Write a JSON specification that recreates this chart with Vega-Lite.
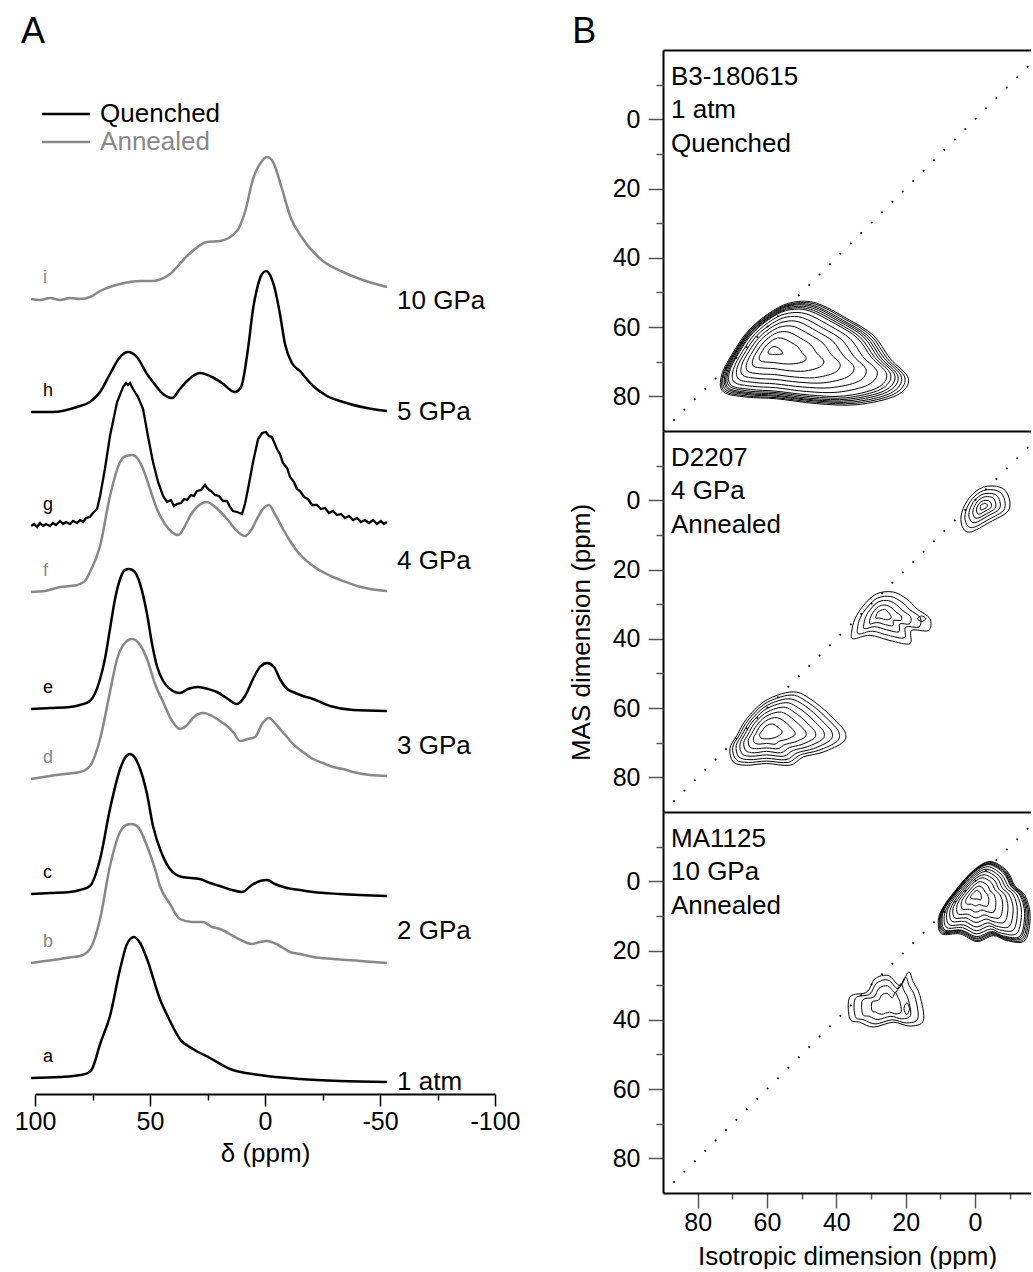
{
"$schema": "https://vega.github.io/schema/vega-lite/v6.json",
"background": "white",
"padding": {"left": 14, "top": 14, "right": 0, "bottom": 0},
"config": {
  "font": "Liberation Sans",
  "view": {"stroke": null},
  "axis": {"labelFont": "Liberation Sans", "titleFont": "Liberation Sans", "labelColor": "#000000", "titleColor": "#000000", "titleFontWeight": "normal", "grid": false, "labelFlush": false}
},
"datasets": {
  "spectra": [
    {"s": "i", "type": "Annealed", "x": [101.7, 97.8, 93.5, 89.1, 84.8, 80.4, 76.1, 71.7, 63.0, 54.3, 48.7, 41.3, 33.9, 25.2, 19.6, 12.2, 8.7, 5.2, 1.3, -0.9, -3.5, -7.4, -10.9, -16.5, -25.2, -33.9, -41.3, -53.0], "u": [900, 899, 901, 899, 901, 900, 902, 908, 915, 918, 918, 925, 943, 957, 958, 968, 987, 1020, 1038, 1042, 1037, 1010, 983, 960, 938, 927, 920, 912]},
    {"s": "h", "type": "Quenched", "x": [101.7, 92.2, 81.7, 76.1, 71.7, 67.4, 63.0, 59.6, 55.7, 51.3, 48.7, 44.3, 40.4, 37.0, 33.9, 28.3, 23.0, 18.7, 13.0, 10.4, 7.4, 5.2, 3.5, 1.3, -0.4, -2.6, -4.3, -6.5, -8.7, -11.7, -15.2, -20.9, -27.0, -33.9, -44.3, -53.0], "u": [787, 787, 792, 797, 807, 825, 842, 847, 842, 825, 817, 805, 801, 810, 818, 826, 822, 816, 807, 812, 850, 890, 910, 925, 928, 922, 910, 885, 855, 836, 828, 813, 803, 797, 791, 788]},
    {"s": "g", "type": "Quenched", "x": [101.7, 100.4, 99.1, 97.8, 96.5, 95.2, 93.5, 92.2, 90.9, 89.1, 87.8, 86.5, 84.8, 83.5, 81.7, 80.4, 79.1, 77.8, 76.1, 74.8, 73.0, 71.7, 69.6, 67.4, 64.3, 61.7, 60.4, 59.6, 58.7, 57.4, 55.2, 53.0, 50.9, 48.7, 46.5, 44.3, 42.6, 40.9, 39.6, 38.3, 36.5, 35.2, 33.9, 32.2, 30.9, 29.6, 27.8, 26.1, 24.8, 23.5, 21.7, 20.0, 18.3, 16.5, 15.2, 13.9, 12.2, 10.0, 8.7, 7.4, 5.2, 3.0, 1.3, -0.4, -1.7, -3.0, -5.2, -6.5, -7.8, -9.6, -10.9, -12.6, -13.9, -15.2, -17.0, -18.7, -20.4, -22.6, -24.3, -26.1, -27.8, -29.6, -31.3, -33.0, -34.8, -36.5, -38.3, -40.0, -41.7, -43.5, -45.2, -47.0, -48.7, -50.4, -51.7, -53.0], "u": [673, 675, 672, 676, 673, 675, 673, 676, 674, 678, 675, 677, 675, 678, 676, 679, 677, 681, 682, 686, 690, 703, 730, 763, 797, 812, 816, 814, 816, 810, 802, 790, 763, 737, 717, 703, 697, 699, 693, 695, 696, 700, 699, 704, 703, 708, 709, 714, 710, 708, 704, 703, 698, 698, 692, 688, 687, 685, 695, 710, 737, 760, 766, 767, 763, 762, 750, 745, 736, 731, 722, 717, 710, 708, 702, 700, 694, 694, 690, 691, 686, 688, 684, 685, 681, 683, 679, 681, 677, 679, 676, 679, 675, 678, 675, 677]},
    {"s": "f", "type": "Annealed", "x": [101.7, 95.7, 89.1, 84.8, 81.7, 78.3, 76.1, 71.7, 67.4, 63.0, 60.4, 57.8, 55.2, 53.0, 50.0, 47.0, 43.5, 37.8, 34.8, 32.6, 29.1, 25.2, 21.7, 16.5, 12.6, 8.7, 5.7, 3.5, 0.9, -1.7, -4.3, -7.8, -10.9, -13.9, -20.9, -29.6, -33.9, -40.0, -45.7, -53.0], "u": [607, 608, 612, 613, 614, 618, 627, 653, 703, 737, 743, 744, 740, 730, 710, 690, 675, 664, 673, 683, 693, 697, 692, 680, 669, 663, 670, 680, 690, 694, 685, 670, 658, 648, 633, 622, 618, 613, 610, 608]},
    {"s": "e", "type": "Quenched", "x": [101.7, 93.5, 84.8, 80.4, 76.1, 71.7, 69.6, 67.4, 65.2, 63.0, 60.9, 59.1, 57.0, 54.3, 51.3, 49.1, 47.0, 44.3, 41.3, 37.0, 33.5, 29.1, 24.8, 20.9, 16.1, 12.2, 8.7, 5.2, 2.2, -0.9, -3.9, -6.5, -9.6, -12.2, -16.5, -20.9, -28.3, -38.3, -53.0], "u": [490, 491, 492, 494, 498, 520, 540, 570, 600, 620, 629, 630, 628, 615, 585, 555, 533, 518, 510, 506, 510, 512, 510, 507, 500, 495, 503, 520, 532, 536, 532, 520, 510, 507, 503, 500, 493, 489, 488]},
    {"s": "d", "type": "Annealed", "x": [101.7, 93.5, 87.0, 80.4, 76.1, 71.7, 67.4, 64.3, 61.3, 57.8, 54.3, 51.3, 47.8, 44.3, 40.4, 37.0, 34.3, 31.7, 29.1, 26.5, 23.0, 19.6, 16.5, 13.5, 10.9, 7.4, 4.3, 1.3, -1.7, -4.3, -6.5, -9.6, -12.2, -16.5, -20.9, -25.2, -29.6, -33.9, -38.3, -45.7, -53.0], "u": [420, 423, 425, 427, 433, 460, 507, 540, 555, 560, 554, 540, 515, 497, 478, 470, 473, 480, 485, 486, 483, 478, 473, 466, 458, 460, 462, 475, 481, 476, 470, 462, 455, 447, 440, 436, 432, 430, 427, 424, 423]},
    {"s": "c", "type": "Quenched", "x": [101.7, 93.5, 84.8, 80.4, 76.1, 71.7, 67.4, 63.0, 60.9, 58.7, 56.5, 54.3, 51.3, 48.7, 44.8, 41.3, 36.1, 28.3, 23.9, 19.6, 14.3, 10.0, 5.7, 2.2, -0.9, -4.3, -9.6, -15.2, -20.9, -32.6, -53.0], "u": [305, 306, 307, 309, 313, 340, 390, 430, 441, 445, 441, 430, 405, 373, 345, 330, 322, 320, 316, 313, 309, 307, 314, 318, 319, 315, 311, 309, 307, 305, 303]},
    {"s": "b", "type": "Annealed", "x": [101.7, 95.7, 89.1, 83.9, 80.4, 76.1, 71.7, 67.4, 63.0, 60.4, 57.8, 55.2, 51.3, 47.8, 45.7, 41.3, 37.0, 31.7, 27.0, 23.0, 19.6, 13.0, 8.7, 5.7, 2.2, -0.9, -5.7, -10.9, -15.2, -20.9, -29.6, -41.3, -53.0], "u": [236, 238, 240, 242, 243, 250, 280, 333, 367, 374, 375, 372, 353, 330, 313, 295, 280, 277, 277, 272, 270, 262, 257, 255, 257, 258, 254, 247, 245, 242, 240, 238, 236]},
    {"s": "a", "type": "Quenched", "x": [101.7, 89.1, 80.4, 76.9, 75.2, 71.7, 67.4, 63.0, 60.0, 57.0, 54.3, 51.3, 45.7, 41.3, 37.0, 31.3, 23.9, 15.2, 2.2, -15.2, -32.6, -53.0], "u": [121, 122, 124, 126, 130, 155, 183, 230, 255, 262, 256, 240, 200, 178, 160, 150, 141, 130, 124, 120, 118, 117]}
  ],
  "plabels": [
    {"p": "10 GPa", "u": 898},
    {"p": "5 GPa", "u": 787},
    {"p": "4 GPa", "u": 638},
    {"p": "3 GPa", "u": 453},
    {"p": "2 GPa", "u": 268},
    {"p": "1 atm", "u": 117}
  ],
  "blabels": [
    {"p": 1, "t": "B3-180615\n1 atm\nQuenched"},
    {"p": 2, "t": "D2207\n4 GPa\nAnnealed"},
    {"p": 3, "t": "MA1125\n10 GPa\nAnnealed"}
  ],
  "diag": [{"d": 90}, {"d": -20}],
  "contours": [
    {"p": 1, "c": "t01", "x": [73.1, 72.6, 65.9, 57.2, 45.7, 34.0, 22.6, 19.2, 24.5, 29.3, 37.0, 45.7, 52.4, 58.2, 64.9, 69.7], "y": [73.9, 78.7, 80.2, 80.7, 82.1, 82.4, 79.7, 74.9, 69.1, 62.4, 57.5, 53.1, 52.8, 55.2, 60.5, 67.2]},
    {"p": 1, "c": "t01b", "x": [72.7, 72.3, 65.7, 57.2, 46.0, 34.6, 23.5, 20.2, 25.4, 30.0, 37.5, 46.0, 52.6, 58.2, 64.7, 69.4], "y": [73.7, 78.4, 79.9, 80.4, 81.7, 82.0, 79.4, 74.7, 69.0, 62.5, 57.7, 53.4, 53.2, 55.5, 60.7, 67.2]},
    {"p": 1, "c": "t02", "x": [72.4, 71.9, 65.5, 57.3, 46.3, 35.2, 24.4, 21.2, 26.2, 30.8, 38.1, 46.3, 52.7, 58.2, 64.6, 69.1], "y": [73.5, 78.1, 79.5, 80.0, 81.3, 81.6, 79.1, 74.5, 69.0, 62.6, 58.0, 53.8, 53.5, 55.8, 60.8, 67.2]},
    {"p": 1, "c": "t02b", "x": [72.0, 71.5, 65.4, 57.3, 46.7, 35.8, 25.3, 22.2, 27.1, 31.5, 38.6, 46.7, 52.9, 58.2, 64.4, 68.9], "y": [73.4, 77.8, 79.2, 79.7, 81.0, 81.2, 78.7, 74.3, 68.9, 62.7, 58.2, 54.1, 53.8, 56.1, 61.0, 67.2]},
    {"p": 1, "c": "t03", "x": [71.6, 71.2, 65.2, 57.3, 47.0, 36.5, 26.2, 23.1, 27.9, 32.2, 39.2, 47.0, 53.0, 58.2, 64.3, 68.6], "y": [73.2, 77.5, 78.9, 79.3, 80.6, 80.8, 78.4, 74.1, 68.9, 62.8, 58.4, 54.5, 54.2, 56.4, 61.1, 67.2]},
    {"p": 1, "c": "t03b", "x": [71.2, 70.8, 64.9, 57.4, 47.4, 37.2, 27.3, 24.3, 28.9, 33.1, 39.8, 47.4, 53.2, 58.2, 64.1, 68.2], "y": [73.0, 77.1, 78.5, 78.9, 80.1, 80.4, 78.0, 73.8, 68.8, 63.0, 58.7, 54.9, 54.6, 56.7, 61.3, 67.1]},
    {"p": 1, "c": "t04", "x": [70.8, 70.3, 64.7, 57.4, 47.8, 37.9, 28.3, 25.5, 29.9, 34.0, 40.4, 47.8, 53.4, 58.3, 63.9, 67.9], "y": [72.8, 76.8, 78.0, 78.5, 79.6, 79.9, 77.6, 73.6, 68.7, 63.1, 59.0, 55.3, 55.0, 57.0, 61.5, 67.1]},
    {"p": 1, "c": "t05", "x": [69.7, 69.4, 64.2, 57.5, 48.6, 39.6, 30.9, 28.2, 32.3, 36.0, 41.9, 48.6, 53.8, 58.3, 63.4, 67.1], "y": [72.2, 75.9, 77.1, 77.5, 78.6, 78.8, 76.7, 73.0, 68.6, 63.4, 59.6, 56.2, 56.0, 57.8, 61.9, 67.1]},
    {"p": 1, "c": "t06", "x": [68.6, 68.2, 63.6, 57.6, 49.7, 41.6, 33.7, 31.4, 35.0, 38.4, 43.7, 49.7, 54.3, 58.3, 62.9, 66.2], "y": [71.7, 75.0, 76.0, 76.4, 77.3, 77.5, 75.7, 72.4, 68.4, 63.7, 60.4, 57.3, 57.1, 58.8, 62.4, 67.1]},
    {"p": 1, "c": "t07", "x": [67.3, 67.0, 62.9, 57.7, 50.8, 43.8, 37.0, 34.9, 38.1, 41.0, 45.6, 50.8, 54.8, 58.3, 62.3, 65.2], "y": [71.0, 73.9, 74.8, 75.1, 75.9, 76.1, 74.5, 71.6, 68.1, 64.1, 61.2, 58.5, 58.4, 59.8, 63.0, 67.0]},
    {"p": 1, "c": "t08", "x": [65.8, 65.6, 62.2, 57.9, 52.1, 46.3, 40.6, 38.9, 41.5, 43.9, 47.8, 52.1, 55.5, 58.4, 61.7, 64.1], "y": [70.3, 72.7, 73.5, 73.7, 74.4, 74.6, 73.2, 70.8, 67.9, 64.6, 62.1, 59.9, 59.8, 61.0, 63.6, 67.0]},
    {"p": 1, "c": "t09", "x": [64.1, 63.9, 61.3, 58.0, 53.6, 49.2, 44.9, 43.6, 45.6, 47.4, 50.3, 53.6, 56.2, 58.4, 60.9, 62.8], "y": [69.4, 71.3, 71.8, 72.0, 72.6, 72.7, 71.6, 69.8, 67.6, 65.1, 63.2, 61.5, 61.4, 62.3, 64.3, 66.9]},
    {"p": 1, "c": "t10", "x": [62.2, 62.0, 60.4, 58.2, 55.3, 52.4, 49.5, 48.7, 50.0, 51.2, 53.1, 55.3, 57.0, 58.4, 60.1, 61.3], "y": [68.5, 69.7, 70.1, 70.2, 70.6, 70.6, 70.0, 68.8, 67.3, 65.6, 64.4, 63.3, 63.2, 63.8, 65.2, 66.8]},
    {"p": 1, "c": "t11", "x": [59.7, 59.1, 57.5, 55.6, 55.8, 56.8, 58.0, 59.0], "y": [67.3, 67.8, 67.9, 67.7, 66.9, 66.0, 65.6, 66.2]},
    {"p": 2, "c": "m1", "x": [70.7, 69.7, 65.9, 60.1, 53.4, 49.5, 43.8, 38.0, 37.5, 39.9, 43.8, 47.6, 51.4, 55.8, 61.1, 65.9, 68.7], "y": [71.7, 75.6, 76.5, 76.0, 76.5, 74.1, 72.7, 69.8, 66.9, 64.0, 60.2, 57.3, 55.4, 55.9, 58.3, 63.1, 67.9]},
    {"p": 2, "c": "m2", "x": [69.9, 68.9, 65.4, 60.1, 53.9, 50.4, 45.1, 39.8, 39.3, 41.5, 45.1, 48.6, 52.1, 56.1, 61.0, 65.4, 68.0], "y": [71.3, 74.9, 75.7, 75.3, 75.7, 73.5, 72.2, 69.6, 66.9, 64.2, 60.7, 58.1, 56.3, 56.8, 59.0, 63.4, 67.8]},
    {"p": 2, "c": "m3", "x": [68.9, 68.1, 64.9, 60.1, 54.5, 51.3, 46.6, 41.8, 41.3, 43.3, 46.6, 49.7, 52.9, 56.5, 60.9, 64.9, 67.2], "y": [70.9, 74.1, 74.9, 74.5, 74.9, 72.9, 71.7, 69.3, 66.9, 64.5, 61.3, 58.9, 57.4, 57.8, 59.8, 63.8, 67.7]},
    {"p": 2, "c": "m4", "x": [67.8, 67.1, 64.3, 60.1, 55.2, 52.4, 48.2, 44.0, 43.6, 45.4, 48.2, 51.0, 53.8, 57.0, 60.8, 64.3, 66.4], "y": [70.4, 73.3, 73.9, 73.5, 73.9, 72.2, 71.1, 69.0, 66.9, 64.8, 62.0, 59.9, 58.5, 58.9, 60.6, 64.1, 67.6]},
    {"p": 2, "c": "m5", "x": [66.7, 66.1, 63.7, 60.1, 56.0, 53.5, 50.0, 46.4, 46.1, 47.6, 50.0, 52.4, 54.7, 57.4, 60.7, 63.7, 65.4], "y": [69.9, 72.3, 72.9, 72.5, 72.9, 71.4, 70.5, 68.7, 66.9, 65.1, 62.8, 61.0, 59.8, 60.1, 61.6, 64.5, 67.5]},
    {"p": 2, "c": "m6", "x": [65.4, 64.9, 63.0, 60.1, 56.8, 54.8, 52.0, 49.1, 48.8, 50.0, 52.0, 53.9, 55.8, 58.0, 60.6, 63.0, 64.4], "y": [69.3, 71.3, 71.7, 71.5, 71.7, 70.5, 69.8, 68.4, 66.9, 65.5, 63.6, 62.1, 61.2, 61.4, 62.6, 65.0, 67.4]},
    {"p": 2, "c": "m7", "x": [63.9, 63.6, 62.2, 60.1, 57.7, 56.3, 54.2, 52.1, 52.0, 52.8, 54.2, 55.6, 57.0, 58.6, 60.5, 62.2, 63.2], "y": [68.6, 70.0, 70.4, 70.2, 70.4, 69.5, 69.0, 67.9, 66.9, 65.9, 64.5, 63.4, 62.8, 62.9, 63.8, 65.5, 67.3]},
    {"p": 2, "c": "m8", "x": [62.2, 61.3, 58.8, 56.8, 55.6, 56.8, 58.4, 60.3, 61.8], "y": [67.9, 68.8, 68.8, 68.1, 66.9, 65.6, 64.6, 65.2, 67.1]},
    {"p": 2, "c": "n1", "x": [35.6, 35.1, 30.3, 24.5, 18.8, 18.3, 13.5, 13.0, 16.8, 19.7, 23.6, 28.4, 32.2, 34.6], "y": [38.1, 40.0, 39.0, 40.5, 41.4, 37.6, 37.6, 34.2, 31.3, 28.5, 26.5, 27.0, 30.4, 34.2]},
    {"p": 2, "c": "n2", "x": [33.9, 33.5, 29.6, 25.0, 20.4, 20.0, 16.2, 15.8, 18.8, 21.1, 24.3, 28.1, 31.1, 33.1], "y": [37.0, 38.6, 37.8, 39.0, 39.7, 36.6, 36.6, 33.9, 31.6, 29.4, 27.8, 28.2, 30.9, 33.9]},
    {"p": 2, "c": "n3", "x": [32.1, 31.8, 28.9, 25.5, 22.0, 21.7, 18.9, 18.6, 20.8, 22.6, 24.9, 27.8, 30.1, 31.5], "y": [36.0, 37.1, 36.5, 37.4, 38.0, 35.7, 35.7, 33.6, 31.9, 30.2, 29.0, 29.3, 31.4, 33.6]},
    {"p": 2, "c": "n4", "x": [30.4, 30.2, 28.3, 25.9, 23.7, 23.5, 21.5, 21.3, 22.9, 24.0, 25.6, 27.5, 29.0, 30.0], "y": [34.9, 35.7, 35.3, 35.9, 36.2, 34.7, 34.7, 33.4, 32.2, 31.1, 30.3, 30.5, 31.8, 33.4]},
    {"p": 2, "c": "n5", "x": [28.6, 27.6, 25.3, 24.2, 24.9, 26.2, 28.0], "y": [33.9, 34.0, 34.5, 33.8, 32.5, 31.5, 32.3]},
    {"p": 2, "c": "n6", "x": [16.6, 15.4, 14.2, 15.4], "y": [34.2, 35.0, 34.2, 33.4]},
    {"p": 2, "c": "o1", "x": [3.8, 3.8, 1.5, -4.3, -9.6, -9.6, -7.2, -2.4, 1.5], "y": [3.5, 7.3, 9.2, 6.3, 3.0, -1.3, -3.8, -3.8, -0.9]},
    {"p": 2, "c": "o2", "x": [2.7, 2.7, 0.8, -4.0, -8.3, -8.3, -6.3, -2.4, 0.8], "y": [3.2, 6.3, 7.9, 5.5, 2.8, -0.8, -2.8, -2.8, -0.4]},
    {"p": 2, "c": "o3", "x": [1.6, 1.6, 0.1, -3.6, -7.0, -7.0, -5.5, -2.4, 0.1], "y": [2.9, 5.3, 6.5, 4.6, 2.5, -0.2, -1.8, -1.8, 0.0]},
    {"p": 2, "c": "o4", "x": [0.5, 0.5, -0.6, -3.3, -5.8, -5.8, -4.7, -2.4, -0.6], "y": [2.6, 4.3, 5.2, 3.9, 2.3, 0.3, -0.9, -0.9, 0.5]},
    {"p": 2, "c": "o5", "x": [-0.5, -0.5, -1.2, -3.0, -4.6, -4.6, -3.8, -2.4, -1.2], "y": [2.2, 3.4, 4.0, 3.1, 2.1, 0.8, 0.1, 0.1, 0.9]},
    {"p": 2, "c": "o6", "x": [-1.5, -1.8, -3.5, -3.1, -1.8], "y": [2.0, 2.8, 1.9, 0.9, 1.3]},
    {"p": 3, "c": "l01", "x": [-4.3, 0.5, 5.3, 9.2, 10.6, 9.6, 4.3, -0.5, -5.3, -9.1, -14.4, -15.9, -14.4, -11.5, -9.1], "y": [-5.7, -3.1, 2.2, 7.5, 11.4, 15.2, 15.2, 17.4, 15.7, 17.1, 17.1, 9.9, 4.1, 1.3, -3.1]},
    {"p": 3, "c": "l01b", "x": [-4.2, 0.5, 5.2, 9.0, 10.3, 9.4, 4.2, -0.5, -5.2, -8.9, -14.0, -15.5, -14.0, -11.2, -8.9], "y": [-5.5, -2.9, 2.2, 7.4, 11.2, 14.9, 14.9, 17.1, 15.4, 16.8, 16.8, 9.8, 4.1, 1.4, -2.9]},
    {"p": 3, "c": "l02", "x": [-4.1, 0.5, 5.0, 8.7, 10.1, 9.1, 4.1, -0.5, -5.0, -8.6, -13.7, -15.1, -13.7, -10.9, -8.6], "y": [-5.2, -2.8, 2.3, 7.3, 11.0, 14.6, 14.6, 16.7, 15.1, 16.4, 16.4, 9.6, 4.1, 1.4, -2.8]},
    {"p": 3, "c": "l02b", "x": [-4.0, 0.5, 4.9, 8.5, 9.8, 8.9, 4.0, -0.5, -4.9, -8.4, -13.3, -14.7, -13.3, -10.6, -8.4], "y": [-5.0, -2.6, 2.3, 7.2, 10.8, 14.3, 14.3, 16.4, 14.8, 16.1, 16.1, 9.4, 4.1, 1.5, -2.6]},
    {"p": 3, "c": "l03", "x": [-3.9, 0.5, 4.8, 8.3, 9.5, 8.6, 3.9, -0.5, -4.8, -8.2, -13.0, -14.3, -13.0, -10.4, -8.2], "y": [-4.8, -2.4, 2.4, 7.1, 10.6, 14.1, 14.1, 16.0, 14.5, 15.8, 15.8, 9.3, 4.1, 1.5, -2.4]},
    {"p": 3, "c": "l04", "x": [-3.6, 0.4, 4.5, 7.7, 8.9, 8.1, 3.6, -0.4, -4.5, -7.6, -12.1, -13.4, -12.1, -9.7, -7.6], "y": [-4.2, -2.0, 2.4, 6.9, 10.2, 13.4, 13.4, 15.2, 13.8, 15.0, 15.0, 8.9, 4.0, 1.7, -2.0]},
    {"p": 3, "c": "l05", "x": [-3.3, 0.4, 4.1, 7.1, 8.2, 7.4, 3.3, -0.4, -4.1, -7.0, -11.1, -12.2, -11.1, -8.9, -7.0], "y": [-3.5, -1.5, 2.5, 6.6, 9.6, 12.6, 12.6, 14.3, 12.9, 14.0, 14.0, 8.5, 4.0, 1.9, -1.5]},
    {"p": 3, "c": "l06", "x": [-3.0, 0.3, 3.7, 6.3, 7.3, 6.6, 3.0, -0.3, -3.7, -6.3, -9.9, -11.0, -9.9, -7.9, -6.3], "y": [-2.8, -1.0, 2.7, 6.3, 9.0, 11.6, 11.6, 13.2, 12.0, 13.0, 13.0, 8.0, 4.0, 2.0, -1.0]},
    {"p": 3, "c": "l07", "x": [-2.6, 0.3, 3.2, 5.5, 6.4, 5.8, 2.6, -0.3, -3.2, -5.5, -8.6, -9.5, -8.6, -6.9, -5.5], "y": [-1.9, -0.4, 2.8, 6.0, 8.3, 10.6, 10.6, 11.9, 10.9, 11.7, 11.7, 7.4, 3.9, 2.3, -0.4]},
    {"p": 3, "c": "l08", "x": [-2.2, 0.3, 2.7, 4.6, 5.3, 4.8, 2.2, -0.3, -2.7, -4.6, -7.2, -8.0, -7.2, -5.8, -4.6], "y": [-1.0, 0.3, 3.0, 5.6, 7.6, 9.5, 9.5, 10.6, 9.7, 10.4, 10.4, 6.8, 3.9, 2.5, 0.3]},
    {"p": 3, "c": "l09", "x": [-1.6, 0.2, 2.0, 3.5, 4.0, 3.6, 1.6, -0.2, -2.0, -3.5, -5.5, -6.0, -5.5, -4.4, -3.5], "y": [0.1, 1.1, 3.1, 5.1, 6.6, 8.1, 8.1, 8.9, 8.3, 8.8, 8.8, 6.1, 3.9, 2.8, 1.1]},
    {"p": 3, "c": "l10", "x": [-1.1, 0.1, 1.3, 2.3, 2.7, 2.4, 1.1, -0.1, -1.3, -2.3, -3.6, -4.0, -3.6, -2.9, -2.3], "y": [1.4, 2.0, 3.3, 4.7, 5.6, 6.6, 6.6, 7.1, 6.7, 7.1, 7.1, 5.3, 3.8, 3.1, 2.0]},
    {"p": 3, "c": "l11", "x": [-0.5, 0.6, 1.3, 0.5, -0.6, -1.7, -1.7, -1.1], "y": [2.6, 3.5, 4.6, 5.1, 5.1, 5.3, 3.8, 2.9]},
    {"p": 4, "c": "q1", "x": [36.1, 36.1, 33.2, 29.3, 23.6, 18.8, 14.9, 15.9, 17.8, 19.2, 21.6, 25.0, 28.9, 31.2], "y": [33.4, 39.7, 40.7, 42.1, 40.7, 41.8, 40.2, 33.0, 29.1, 26.2, 30.1, 27.2, 28.2, 32.0]},
    {"p": 4, "c": "q2", "x": [34.5, 34.5, 32.1, 28.7, 23.9, 19.8, 16.5, 17.3, 19.0, 20.1, 22.2, 25.1, 28.4, 30.4], "y": [33.8, 39.1, 40.0, 41.2, 40.0, 40.9, 39.6, 33.4, 30.1, 27.7, 31.0, 28.5, 29.4, 32.6]},
    {"p": 4, "c": "q3", "x": [32.4, 32.4, 30.5, 28.0, 24.3, 21.1, 18.6, 19.3, 20.5, 21.4, 23.0, 25.2, 27.7, 29.2], "y": [34.3, 38.4, 39.0, 39.9, 39.0, 39.7, 38.7, 34.0, 31.5, 29.6, 32.1, 30.2, 30.9, 33.4]},
    {"p": 4, "c": "q4", "x": [29.7, 29.7, 28.6, 27.0, 24.7, 22.8, 21.3, 21.7, 22.4, 23.0, 23.9, 25.3, 26.9, 27.8], "y": [34.9, 37.4, 37.8, 38.4, 37.8, 38.3, 37.6, 34.7, 33.2, 32.0, 33.6, 32.4, 32.8, 34.3]},
    {"p": 4, "c": "q5", "x": [20.5, 19.7, 18.9, 19.7], "y": [36.8, 38.5, 36.8, 35.1]}
  ]
},
"bounds": "flush",
"spacing": 168,
"resolve": {"scale": {"color": "independent"}},
"hconcat": [
  {
    "width": 460,
    "height": 1044,
    "resolve": {"axis": {"x": "independent"}},
    "layer": [
      {
        "data": {"name": "spectra"},
        "transform": [{"filter": "datum.s !== 'g'"}, {"flatten": ["x", "u"]}],
        "mark": {"type": "line", "strokeWidth": 2.5, "interpolate": "monotone"},
        "encoding": {
          "x": {"field": "x", "type": "quantitative", "scale": {"domain": [100, -100], "nice": false, "zero": false},
                "axis": {"orient": "bottom", "values": [100, 50, 0, -50, -100], "tickSize": 12, "tickWidth": 1.5, "tickColor": "#000000", "domainColor": "#000000", "domainWidth": 2, "labelFontSize": 25, "labelPadding": 3, "labelFlush": false, "labelExpr": "'' + datum.value", "title": "δ (ppm)", "titleFontSize": 26, "titlePadding": 6}},
          "y": {"field": "u", "type": "quantitative", "scale": {"domain": [105, 1149], "nice": false, "zero": false}, "axis": null},
          "color": {"field": "type", "type": "nominal", "scale": {"domain": ["Quenched", "Annealed"], "range": ["#000000", "#888888"]}, "legend": null},
          "detail": {"field": "s", "type": "nominal"}
        }
      },
      {
        "data": {"name": "spectra"},
        "transform": [{"filter": "datum.s === 'g'"}, {"flatten": ["x", "u"]}],
        "mark": {"type": "line", "strokeWidth": 2.3, "interpolate": "linear"},
        "encoding": {
          "x": {"field": "x", "type": "quantitative", "axis": null},
          "y": {"field": "u", "type": "quantitative", "axis": null},
          "color": {"field": "type", "type": "nominal", "legend": null},
          "detail": {"field": "s", "type": "nominal"}
        }
      },
      {
        "data": {"name": "spectra"},
        "transform": [{"flatten": ["x", "u"]}, {"filter": "datum.x > 101"}],
        "mark": {"type": "text", "align": "left", "baseline": "middle", "dx": 12, "dy": -21, "fontSize": 18, "font": "Liberation Sans"},
        "encoding": {
          "x": {"field": "x", "type": "quantitative", "axis": null},
          "y": {"field": "u", "type": "quantitative", "axis": null},
          "text": {"field": "s"},
          "color": {"condition": {"test": "datum.type === 'Annealed'", "value": "#888888"}, "value": "#000000"}
        }
      },
      {
        "data": {"name": "plabels"},
        "mark": {"type": "text", "align": "left", "baseline": "middle", "fontSize": 26, "font": "Liberation Sans", "color": "#000000"},
        "encoding": {
          "x": {"datum": -57.4, "type": "quantitative",
                "axis": {"orient": "bottom", "values": [75, 25, -25, -75], "tickSize": 6, "tickWidth": 1.5, "tickColor": "#000000", "domain": false, "labels": false, "title": null}},
          "y": {"field": "u", "type": "quantitative", "axis": null},
          "text": {"field": "p"}
        }
      },
      {
        "data": {"values": [{"type": "Quenched"}]},
        "mark": {"type": "rule", "strokeWidth": 2.5},
        "encoding": {
          "x": {"datum": 97.0, "type": "quantitative", "axis": null},
          "x2": {"datum": 76.1},
          "y": {"datum": 1085, "type": "quantitative", "axis": null},
          "color": {"field": "type", "type": "nominal", "legend": null}
        }
      },
      {
        "data": {"values": [{"type": "Annealed"}]},
        "mark": {"type": "rule", "strokeWidth": 2.5},
        "encoding": {
          "x": {"datum": 97.0, "type": "quantitative", "axis": null},
          "x2": {"datum": 76.1},
          "y": {"datum": 1057, "type": "quantitative", "axis": null},
          "color": {"field": "type", "type": "nominal", "legend": null}
        }
      },
      {
        "data": {"values": [{"type": "Quenched"}]},
        "mark": {"type": "text", "align": "left", "baseline": "middle", "fontSize": 26, "font": "Liberation Sans"},
        "encoding": {
          "x": {"datum": 71.7, "type": "quantitative", "axis": null},
          "y": {"datum": 1085, "type": "quantitative", "axis": null},
          "text": {"field": "type"},
          "color": {"field": "type", "type": "nominal", "legend": null}
        }
      },
      {
        "data": {"values": [{"type": "Annealed"}]},
        "mark": {"type": "text", "align": "left", "baseline": "middle", "fontSize": 26, "font": "Liberation Sans"},
        "encoding": {
          "x": {"datum": 71.7, "type": "quantitative", "axis": null},
          "y": {"datum": 1057, "type": "quantitative", "axis": null},
          "text": {"field": "type"},
          "color": {"field": "type", "type": "nominal", "legend": null}
        }
      },
      {
        "data": {"values": [{"t": "A"}]},
        "mark": {"type": "text", "align": "left", "baseline": "alphabetic", "fontSize": 36, "font": "Liberation Sans", "color": "#000000"},
        "encoding": {
          "x": {"datum": 106.1, "type": "quantitative", "axis": null},
          "y": {"datum": 1156, "type": "quantitative", "axis": null},
          "text": {"field": "t"}
        }
      }
    ]
  },
  {
    "spacing": 0,
    "bounds": "flush",
    "vconcat": [
      {
        "width": 368, "height": 381,
        "resolve": {"axis": {"x": "independent", "y": "independent"}},
        "layer": [
          {
            "data": {"name": "contours"},
            "transform": [{"filter": "datum.p == 1"}, {"flatten": ["x", "y"]}],
            "mark": {"type": "line", "interpolate": "cardinal-closed", "color": "#000000", "strokeWidth": 1, "clip": true},
            "encoding": {
              "x": {"field": "x", "type": "quantitative", "scale": {"domain": [90, -16.14], "nice": false, "zero": false},
                    "axis": {"orient": "top", "domain": true, "domainColor": "#000000", "domainWidth": 2, "ticks": false, "labels": false, "title": null}},
              "y": {"field": "y", "type": "quantitative", "scale": {"domain": [90, -20], "nice": false, "zero": false},
                    "axis": {"orient": "left", "values": [0, 20, 40, 60, 80], "tickSize": 15, "tickWidth": 1.5, "tickColor": "#555555", "domainColor": "#000000", "domainWidth": 2, "labelFontSize": 25, "labelPadding": 8, "title": null}},
              "detail": {"field": "c", "type": "nominal"},
              "order": {"value": null}
            }
          },
          {
            "data": {"name": "diag"},
            "mark": {"type": "line", "color": "#000000", "strokeWidth": 1.8, "strokeDash": [1.7, 13], "clip": true},
            "encoding": {
              "x": {"field": "d", "type": "quantitative", "axis": null},
              "y": {"field": "d", "type": "quantitative",
                    "axis": {"orient": "left", "values": [-10, 10, 30, 50, 70], "tickSize": 7, "tickWidth": 1.5, "tickColor": "#555555", "domain": false, "labels": false, "title": null}}
            }
          },
          {
            "data": {"name": "blabels"},
            "transform": [{"filter": "datum.p == 1"}],
            "mark": {"type": "text", "align": "left", "baseline": "top", "lineBreak": "\n", "lineHeight": 33.5, "dx": 8, "dy": 13.5, "fontSize": 26, "font": "Liberation Sans", "color": "#000000"},
            "encoding": {
              "x": {"datum": 90, "type": "quantitative", "axis": null},
              "y": {"datum": -20, "type": "quantitative", "axis": null},
              "text": {"field": "t"}
            }
          },
          {
            "data": {"values": [{"t": "B"}]},
            "mark": {"type": "text", "align": "left", "baseline": "alphabetic", "fontSize": 36, "font": "Liberation Sans", "color": "#000000"},
            "encoding": {
              "x": {"datum": 116.2, "type": "quantitative", "axis": null},
              "y": {"datum": -22.0, "type": "quantitative", "axis": null},
              "text": {"field": "t"}
            }
          }
        ]
      },
      {
        "width": 368, "height": 381,
        "resolve": {"axis": {"x": "independent", "y": "independent"}},
        "layer": [
          {
            "data": {"name": "contours"},
            "transform": [{"filter": "datum.p == 2"}, {"flatten": ["x", "y"]}],
            "mark": {"type": "line", "interpolate": "cardinal-closed", "color": "#000000", "strokeWidth": 1, "clip": true},
            "encoding": {
              "x": {"field": "x", "type": "quantitative", "scale": {"domain": [90, -16.14], "nice": false, "zero": false},
                    "axis": {"orient": "top", "domain": true, "domainColor": "#000000", "domainWidth": 2, "ticks": false, "labels": false, "title": null}},
              "y": {"field": "y", "type": "quantitative", "scale": {"domain": [90, -20], "nice": false, "zero": false},
                    "axis": {"orient": "left", "values": [0, 20, 40, 60, 80], "tickSize": 15, "tickWidth": 1.5, "tickColor": "#555555", "domainColor": "#000000", "domainWidth": 2, "labelFontSize": 25, "labelPadding": 8, "title": "MAS dimension (ppm)", "titleFontSize": 26, "titlePadding": 18, "titleY": 201}},
              "detail": {"field": "c", "type": "nominal"},
              "order": {"value": null}
            }
          },
          {
            "data": {"name": "diag"},
            "mark": {"type": "line", "color": "#000000", "strokeWidth": 1.8, "strokeDash": [1.7, 13], "clip": true},
            "encoding": {
              "x": {"field": "d", "type": "quantitative", "axis": null},
              "y": {"field": "d", "type": "quantitative",
                    "axis": {"orient": "left", "values": [-10, 10, 30, 50, 70], "tickSize": 7, "tickWidth": 1.5, "tickColor": "#555555", "domain": false, "labels": false, "title": null}}
            }
          },
          {
            "data": {"name": "blabels"},
            "transform": [{"filter": "datum.p == 2"}],
            "mark": {"type": "text", "align": "left", "baseline": "top", "lineBreak": "\n", "lineHeight": 33.5, "dx": 8, "dy": 13.5, "fontSize": 26, "font": "Liberation Sans", "color": "#000000"},
            "encoding": {
              "x": {"datum": 90, "type": "quantitative", "axis": null},
              "y": {"datum": -20, "type": "quantitative", "axis": null},
              "text": {"field": "t"}
            }
          }
        ]
      },
      {
        "width": 368, "height": 381,
        "resolve": {"axis": {"x": "independent", "y": "independent"}},
        "layer": [
          {
            "data": {"name": "contours"},
            "transform": [{"filter": "datum.p == 3"}, {"flatten": ["x", "y"]}],
            "mark": {"type": "line", "interpolate": "cardinal-closed", "color": "#000000", "strokeWidth": 1, "clip": true},
            "encoding": {
              "x": {"field": "x", "type": "quantitative", "scale": {"domain": [90, -16.14], "nice": false, "zero": false},
                    "axis": {"orient": "top", "domain": true, "domainColor": "#000000", "domainWidth": 2, "ticks": false, "labels": false, "title": null}},
              "y": {"field": "y", "type": "quantitative", "scale": {"domain": [90, -20], "nice": false, "zero": false},
                    "axis": {"orient": "left", "values": [0, 20, 40, 60, 80], "tickSize": 15, "tickWidth": 1.5, "tickColor": "#555555", "domainColor": "#000000", "domainWidth": 2, "labelFontSize": 25, "labelPadding": 8, "title": null}},
              "detail": {"field": "c", "type": "nominal"},
              "order": {"value": null}
            }
          },
          {
            "data": {"name": "contours"},
            "transform": [{"filter": "datum.p == 4"}, {"flatten": ["x", "y"]}],
            "mark": {"type": "line", "interpolate": "cardinal-closed", "color": "#000000", "strokeWidth": 1, "clip": true},
            "encoding": {
              "x": {"field": "x", "type": "quantitative",
                    "axis": {"orient": "bottom", "values": [70, 50, 30, 10, -10], "tickSize": 6, "tickWidth": 1.5, "tickColor": "#555555", "domain": false, "labels": false, "title": null}},
              "y": {"field": "y", "type": "quantitative", "axis": null},
              "detail": {"field": "c", "type": "nominal"},
              "order": {"value": null}
            }
          },
          {
            "data": {"name": "diag"},
            "mark": {"type": "line", "color": "#000000", "strokeWidth": 1.8, "strokeDash": [1.7, 13], "clip": true},
            "encoding": {
              "x": {"field": "d", "type": "quantitative",
                    "axis": {"orient": "bottom", "values": [80, 60, 40, 20, 0], "tickSize": 15, "tickWidth": 1.5, "tickColor": "#555555", "domainColor": "#000000", "domainWidth": 2, "labelFontSize": 25, "labelPadding": 2, "labelFlush": false, "title": "Isotropic dimension (ppm)", "titleFontSize": 26, "titlePadding": 8}},
              "y": {"field": "d", "type": "quantitative",
                    "axis": {"orient": "left", "values": [-10, 10, 30, 50, 70], "tickSize": 7, "tickWidth": 1.5, "tickColor": "#555555", "domain": false, "labels": false, "title": null}}
            }
          },
          {
            "data": {"name": "blabels"},
            "transform": [{"filter": "datum.p == 3"}],
            "mark": {"type": "text", "align": "left", "baseline": "top", "lineBreak": "\n", "lineHeight": 33.5, "dx": 8, "dy": 13.5, "fontSize": 26, "font": "Liberation Sans", "color": "#000000"},
            "encoding": {
              "x": {"datum": 90, "type": "quantitative", "axis": null},
              "y": {"datum": -20, "type": "quantitative", "axis": null},
              "text": {"field": "t"}
            }
          }
        ]
      }
    ]
  }
]
}
